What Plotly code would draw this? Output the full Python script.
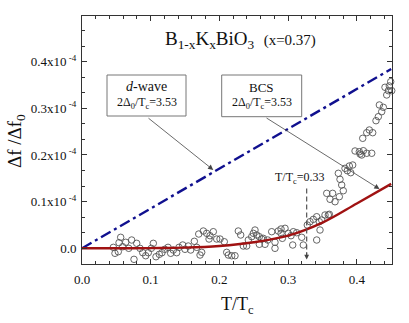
import plotly.graph_objects as go

# experimental points (T/Tc, Δf/Δf0 in units of 1e-4)
t_data = [0.0456, 0.0480, 0.0528, 0.0563, 0.0539, 0.0636, 0.0680, 0.0723, 0.0757, 0.0796,
          0.0844, 0.0884, 0.0927, 0.0965, 0.1009, 0.1038, 0.1077, 0.1125, 0.1164, 0.1204,
          0.1252, 0.1291, 0.1329, 0.1378, 0.1412, 0.1466, 0.1499, 0.1547, 0.1582, 0.1635,
          0.1670, 0.1699, 0.1718, 0.1766, 0.0592,
          0.1815, 0.1863, 0.1911, 0.1849, 0.1961, 0.2009, 0.2071, 0.1742, 0.2106, 0.2130,
          0.2179, 0.2227, 0.2275, 0.2310, 0.2348, 0.2397, 0.2421, 0.2470, 0.2518, 0.2543,
          0.2581, 0.2616, 0.2664, 0.2703, 0.2761, 0.2809, 0.2809, 0.2857, 0.2897, 0.2916,
          0.2955, 0.3003, 0.3042, 0.3076, 0.2494, 0.2581, 0.2639, 0.2897, 0.3125,
          0.3198, 0.3067, 0.3221, 0.3279, 0.3319, 0.3367, 0.3416, 0.3454, 0.3464, 0.3416,
          0.3537, 0.3585, 0.3562, 0.3648, 0.3610, 0.3683, 0.3745, 0.3803, 0.3780, 0.3755,
          0.3731, 0.3828, 0.3862, 0.3891, 0.3940, 0.3911, 0.3974, 0.4036, 0.4047, 0.4095,
          0.4071, 0.4144, 0.4217, 0.4086, 0.4144, 0.4182, 0.4231, 0.4279, 0.4313, 0.4328,
          0.4362, 0.4386, 0.4410, 0.4435, 0.4459, 0.4473, 0.4493, 0.4508, 0.3489, 0.3600]
df_data = [0.0021, -0.0107, -0.0073, 0.0236, 0.0120, 0.0129, 0.0000, 0.0178, -0.0236, 0.0107,
           0.0000, -0.0094, -0.0159, -0.0094, 0.0000, 0.0107, -0.0180, -0.0129, -0.0094, -0.0021,
           0.0021, -0.0107, -0.0036, -0.0094, 0.0021, 0.0071, -0.0021, 0.0049, -0.0036, 0.0150,
           0.0021, 0.0306, -0.0144, 0.0371, 0.0034,
           0.0321, 0.0270, 0.0356, 0.0199, 0.0199, 0.0199, 0.0141, -0.0086, -0.0086, -0.0144,
           -0.0159, -0.0159, 0.0371, 0.0285, 0.0049, 0.0049, 0.0178, 0.0249, 0.0392, 0.0285,
           0.0086, 0.0199, 0.0086, 0.0178, 0.0356, 0.0129, 0.0000, 0.0371, 0.0414, 0.0214,
           0.0429, 0.0321, 0.0270, 0.0356, 0.0321, 0.0249, 0.0214, 0.0321, 0.0334,
           0.0236, 0.0071, 0.0071, 0.0499, 0.0570, 0.0621, 0.0677, 0.0570, 0.0392, 0.0178,
           0.0714, 0.0714, 0.1178, 0.1178, 0.1050, 0.0998, 0.1106, 0.1234, 0.1356, 0.1478,
           0.1607, 0.1714, 0.1663, 0.1763, 0.1785, 0.1620, 0.2085, 0.2070, 0.2021, 0.2091,
           0.1999, 0.2036, 0.2036, 0.2357, 0.2477, 0.2535, 0.2477, 0.2734, 0.2820, 0.3071,
           0.2927, 0.3021, 0.3450, 0.3285, 0.3377, 0.3478, 0.3570, 0.3377, 0.0606, 0.0729]

# d-wave model line
t_dwave = [0.0, 0.45]
df_dwave = [0.0, 0.384]

# BCS model curve
t_bcs = [0.0, 0.05, 0.10, 0.15, 0.20, 0.25, 0.30, 0.35, 0.40, 0.45]
df_bcs = [0.0, 0.0, 0.0005, 0.0015, 0.005, 0.013, 0.027, 0.055, 0.096, 0.138]

y_tickvals = [0.0, 0.1, 0.2, 0.3, 0.4]
y_ticktext = ["0.0", "0.1x10<sup> -4</sup>", "0.2x10<sup> -4</sup>", "0.3x10<sup> -4</sup>", "0.4x10<sup> -4</sup>"]
x_tickvals = [0.0, 0.1, 0.2, 0.3, 0.4]
x_ticktext = ["0.0", "0.1", "0.2", "0.3", "0.4"]

FONT = "Liberation Serif"
AX = "#333333"

fig = go.Figure()
fig.add_trace(go.Scatter(x=t_data, y=df_data, mode="markers", cliponaxis=False,
                         marker=dict(symbol="circle-open", size=6.5, color="#555555",
                                     line=dict(width=0.9, color="#555555")),
                         showlegend=False))
fig.add_trace(go.Scatter(x=t_dwave, y=df_dwave, mode="lines",
                         line=dict(color="#10108f", width=2.4, dash="11px,4px,3px,4px"),
                         showlegend=False))
fig.add_trace(go.Scatter(x=t_bcs, y=df_bcs, mode="lines", line_shape="spline",
                         line=dict(color="#a01212", width=2.4), showlegend=False))

axis_common = dict(showline=True, linecolor=AX, linewidth=1, mirror="allticks",
                   ticks="inside", ticklen=5, tickwidth=1, tickcolor=AX,
                   showgrid=False, zeroline=False, automargin=False,
                   tickfont=dict(family=FONT, size=13, color="#111111"))

fig.update_xaxes(range=[0, 0.4512], tickmode="array", tickvals=x_tickvals, ticktext=x_ticktext,
                 minor=dict(ticks="inside", dtick=0.02, tick0=0, ticklen=3, tickcolor=AX, showgrid=False),
                 ticklabelstandoff=3, **axis_common)
fig.update_yaxes(range=[-0.0336, 0.4977], tickmode="array", tickvals=y_tickvals, ticktext=y_ticktext,
                 minor=dict(ticks="inside", dtick=0.1/3, tick0=0, ticklen=3, tickcolor=AX, showgrid=False),
                 ticklabelstandoff=2, **axis_common)

def px2paper(px, py):
    return (px - 82) / 310.0, (264 - py) / 248.0

for (left, top, right, bottom) in [(107, 75, 186, 116), (221.7, 75, 301.7, 116.7)]:
    a0, b0 = px2paper(left, bottom)
    a1, b1 = px2paper(right, top)
    fig.add_shape(type="rect", xref="paper", yref="paper", x0=a0, y0=b0, x1=a1, y1=b1,
                  line=dict(color="#777777", width=1), fillcolor="white", layer="above")

fig.add_shape(type="line", xref="x", yref="y", x0=0.327, y0=0.128, x1=0.327, y1=-0.015,
              line=dict(color="#555555", width=1.2, dash="5px,3px"))

def txt(px, py, text, size, **kw):
    xp, yp = px2paper(px, py)
    fig.add_annotation(x=xp, y=yp, xref="paper", yref="paper", text=text, showarrow=False,
                       xanchor="center", yanchor="middle",
                       font=dict(family=FONT, size=size, color="#111111"), **kw)

txt(240, 40, "B<sub>1-x</sub>K<sub>x</sub>BiO<sub>3</sub>  <span style='font-size:15px'>(x=0.37)</span>", 19)
txt(146.5, 86, "<i>d</i>-wave", 14)
txt(146.5, 103, "2Δ<sub>0</sub>/T<sub>c</sub>=3.53", 12)
txt(261.7, 87.5, "BCS", 13)
txt(261.7, 103.3, "2Δ<sub>0</sub>/T<sub>c</sub>=3.53", 12)
txt(300, 178, "T/T<sub>c</sub>=0.33", 12)
txt(238, 305, "T/T<sub>c</sub>", 18)
txt(16, 141, "Δf /Δf<sub>0</sub>", 19, textangle=-90)

# arrows (data coordinates)
for (hx, hy, tx, ty) in [(0.191, 0.168, 0.0946, 0.2813), (0.433, 0.127, 0.2664, 0.2812)]:
    fig.add_annotation(x=hx, y=hy, ax=tx, ay=ty, xref="x", yref="y", axref="x", ayref="y",
                       text="", showarrow=True, arrowhead=2, arrowsize=1.3, arrowwidth=0.8,
                       arrowcolor="#444444")
fig.add_annotation(x=0.327, y=-0.024, ax=0.327, ay=-0.005, xref="x", yref="y", axref="x", ayref="y",
                   text="", showarrow=True, arrowhead=2, arrowsize=1.2, arrowwidth=0.8,
                   arrowcolor="#444444")

fig.update_layout(width=409, height=323, margin=dict(l=82, r=17, t=16, b=59, autoexpand=False),
                  paper_bgcolor="white", plot_bgcolor="white",
                  font=dict(family=FONT))
fig.write_html("out.html", config={"displayModeBar": False},
               post_script="document.body.style.margin='0px';")
